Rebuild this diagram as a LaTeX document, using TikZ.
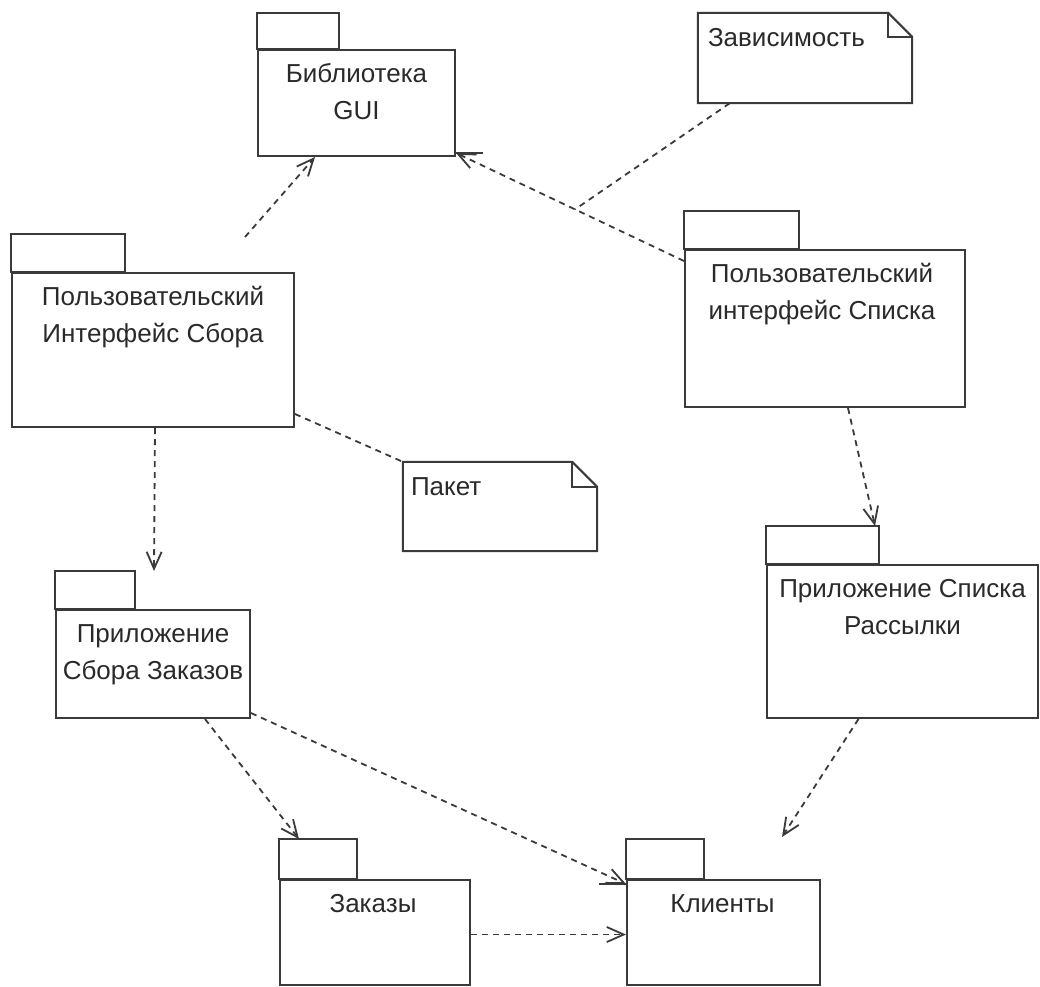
\documentclass[tikz,border=0pt]{standalone}
\usepackage{fontspec}
\setmainfont{Liberation Sans}
\usetikzlibrary{arrows.meta,calc}
\definecolor{ln}{HTML}{3A3A3A}
\definecolor{tx}{HTML}{2A2A2A}
\tikzset{
  pkgbody/.style={draw=ln, line width=2pt, inner sep=0pt},
  pkgtab/.style={draw=ln, line width=2pt},
  pkgtext/.style={anchor=north, inner sep=0pt, align=center, text=tx, font=\fontsize{26}{37}\selectfont},
  notebox/.style={draw=ln, line width=2pt, line join=miter},
  notearea/.style={inner sep=0pt},
  notetext/.style={anchor=base west, inner sep=0pt, text=tx, font=\fontsize{26}{37}\selectfont},
  depline/.style={draw=ln, line width=1.8pt, dash pattern=on 6pt off 5pt,
    -{Straight Barb[length=17pt,width=15pt,line width=1.8pt]}},
  noteline/.style={draw=ln, line width=1.8pt, dash pattern=on 6pt off 5pt},
  stub/.style={draw=ln, line width=2pt},
}
\begin{document}
\begin{tikzpicture}[x=1pt,y=-1pt]
\useasboundingbox (0,0) rectangle (1040,986);

% Packages
\node[pkgbody, minimum width=197pt, minimum height=106pt] (gui) at (356.5,103) {};
\draw[pkgtab] (gui.north west) rectangle ++(82,-36);
\node[pkgtext] (gui-t) at ($(gui.north)+(0,9)$) {\rule{0pt}{24pt}Библиотека\\GUI};

\node[pkgbody, minimum width=282pt, minimum height=154pt] (sbor) at (153,350) {};
\draw[pkgtab] (sbor.north west) rectangle ++(114,-38);
\node[pkgtext] (sbor-t) at ($(sbor.north)+(0,9)$) {\rule{0pt}{24pt}Пользовательский\\Интерфейс Сбора};

\node[pkgbody, minimum width=280pt, minimum height=157pt] (spi) at (825,328.5) {};
\draw[pkgtab] (spi.north west) rectangle ++(115,-38);
\node[pkgtext] (spi-t) at ($(spi.north)+(-3,9)$) {\rule{0pt}{24pt}Пользовательский\\интерфейс Списка};

\node[pkgbody, minimum width=194pt, minimum height=108pt] (zapp) at (153,664) {};
\draw[pkgtab] (zapp.north west) rectangle ++(80,-38);
\node[pkgtext] (zapp-t) at ($(zapp.north)+(0,9)$) {\rule{0pt}{24pt}Приложение\\Сбора Заказов};

\node[pkgbody, minimum width=271pt, minimum height=153pt] (rass) at (902.5,641.5) {};
\draw[pkgtab] (rass.north west) rectangle ++(113,-38);
\node[pkgtext] (rass-t) at ($(rass.north)+(0,9)$) {\rule{0pt}{24pt}Приложение Списка\\Рассылки};

\node[pkgbody, minimum width=190pt, minimum height=105pt] (zak) at (375,932.5) {};
\draw[pkgtab] (zak.north west) rectangle ++(78,-40);
\node[pkgtext] (zak-t) at ($(zak.north)+(-2,9)$) {\rule{0pt}{24pt}Заказы};

\node[pkgbody, minimum width=193pt, minimum height=105pt] (kli) at (723.5,932.5) {};
\draw[pkgtab] (kli.north west) rectangle ++(78,-40);
\node[pkgtext] (kli-t) at ($(kli.north)+(-1,9)$) {\rule{0pt}{24pt}Клиенты};

% Notes
\node[notearea, minimum width=214pt, minimum height=90pt] (dep) at (805,58) {};
\draw[notebox] (dep.north west) -- ($(dep.north east)+(-24,0)$) -- ($(dep.north east)+(0,24)$) -- (dep.south east) -- (dep.south west) -- cycle;
\draw[notebox] ($(dep.north east)+(-24,0)$) |- ($(dep.north east)+(0,24)$);
\node[notetext] (dep-t) at ($(dep.north west)+(10,34)$) {Зависимость};

\node[notearea, minimum width=194pt, minimum height=89pt] (pak) at (500,506.5) {};
\draw[notebox] (pak.north west) -- ($(pak.north east)+(-25,0)$) -- ($(pak.north east)+(0,25)$) -- (pak.south east) -- (pak.south west) -- cycle;
\draw[notebox] ($(pak.north east)+(-25,0)$) |- ($(pak.north east)+(0,25)$);
\node[notetext] (pak-t) at ($(pak.north west)+(8,34)$) {Пакет};

% Dependencies
\coordinate (a0) at (245,237);
\draw[depline] (a0) -- ($(gui.south west)+(58,0)$);
\draw[depline] ($(spi.north west)+(0,12)$) -- coordinate[pos=0.478] (bmid) ($(gui.south east)+(0,-4)$);
\draw[stub] ($(gui.south east)+(0,-4)$) -- ++(27,0);
\draw[noteline] ($(dep.south west)+(32,0)$) -- (bmid);
\draw[noteline] ($(sbor.south east)+(0,-14)$) -- (pak.north west);
\draw[depline] ($(sbor.south)+(2,0)$) -- ($(zapp.north west)+(99,-38)$);
\draw[depline] ($(spi.south)+(23,0)$) -- ($(rass.north west)+(109,-38)$);
\draw[depline] ($(rass.south)+(-44,0)$) -- ($(kli.north west)+(156,-42)$);
\draw[depline] ($(zapp.south)+(52,0)$) -- ($(zak.north west)+(20,-40)$);
\draw[depline] ($(zapp.south east)+(0,-6)$) -- ($(kli.north west)+(0,5)$);
\draw[stub] ($(kli.north west)+(0,5)$) -- ++(-27,0);
\draw[depline] ($(zak.east)+(0,2)$) -- ($(kli.west)+(0,2)$);
\end{tikzpicture}
\end{document}
